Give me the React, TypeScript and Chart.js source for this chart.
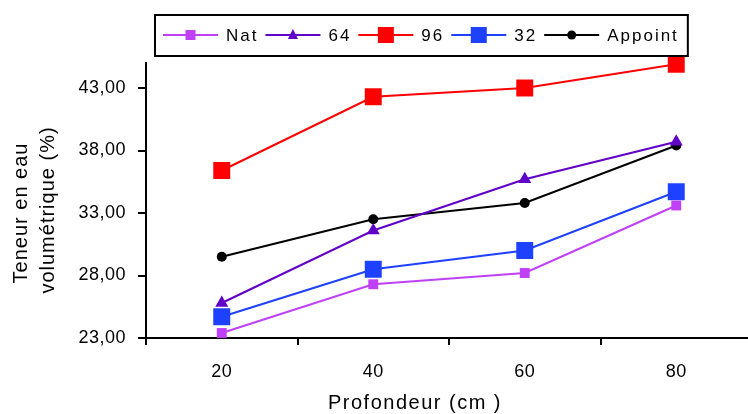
import React, { useEffect, useRef } from "react";
import { Chart, registerables } from "chart.js";

Chart.register(...registerables);

// Soil depth (cm) and volumetric water content (%) per treatment
const depths = ["20", "40", "60", "80"];
const natValues = [23.4, 27.3, 28.2, 33.6];
const s64Values = [25.8, 31.6, 35.7, 38.7];
const s96Values = [36.4, 42.3, 43.0, 44.9];
const s32Values = [24.7, 28.5, 30.0, 34.7];
const appointValues = [29.5, 32.5, 33.8, 38.4];

const yTicks = [23, 28, 33, 38, 43];
const yMin = 23;
const yMax = 45;

const FONT = '"Liberation Sans", Arial, Helvetica, sans-serif';

type Shape = "rect" | "triangle" | "circle";

const seriesDefs: { label: string; data: number[]; color: string; shape: Shape; radius: number; legendSize: number }[] = [
  { label: "Nat", data: natValues, color: "#C040F8", shape: "rect", radius: 7, legendSize: 10 },
  { label: "64", data: s64Values, color: "#6000C8", shape: "triangle", radius: 7.5, legendSize: 10 },
  { label: "96", data: s96Values, color: "#FF0000", shape: "rect", radius: 12, legendSize: 16 },
  { label: "32", data: s32Values, color: "#1E40FF", shape: "rect", radius: 12, legendSize: 16 },
  { label: "Appoint", data: appointValues, color: "#000000", shape: "circle", radius: 5, legendSize: 9 },
];

function drawMarker(ctx: CanvasRenderingContext2D, shape: Shape, x: number, y: number, size: number, color: string) {
  ctx.fillStyle = color;
  ctx.beginPath();
  if (shape === "rect") {
    ctx.rect(x - size / 2, y - size / 2, size, size);
  } else if (shape === "triangle") {
    ctx.moveTo(x, y - size * 0.6);
    ctx.lineTo(x + size / 2, y + size * 0.4);
    ctx.lineTo(x - size / 2, y + size * 0.4);
    ctx.closePath();
  } else {
    ctx.arc(x, y, size / 2, 0, Math.PI * 2);
  }
  ctx.fill();
}

// Boxed legend with line + marker samples, plus both axis titles
const decorPlugin = {
  id: "decor",
  beforeDraw(chart: any) {
    chart.ctx.letterSpacing = "0.5px";
  },
  afterDraw(chart: any) {
    const ctx: CanvasRenderingContext2D = chart.ctx;
    ctx.save();
    ctx.letterSpacing = "2px";
    ctx.font = `17px ${FONT}`;
    ctx.textBaseline = "middle";
    ctx.textAlign = "left";
    const midY = 35;
    let x = 163;
    seriesDefs.forEach((s) => {
      ctx.strokeStyle = s.color;
      ctx.lineWidth = 2;
      ctx.beginPath();
      ctx.moveTo(x, midY);
      ctx.lineTo(x + 55, midY);
      ctx.stroke();
      drawMarker(ctx, s.shape, x + 27.5, midY, s.legendSize, s.color);
      ctx.fillStyle = "#000";
      ctx.fillText(s.label, x + 63, midY + 1);
      const w = ctx.measureText(s.label).width;
      x = x + 63 + w + 7;
    });
    ctx.strokeStyle = "#000";
    ctx.lineWidth = 2;
    ctx.strokeRect(155, 15, x + 2 - 155, 41);

    // axis titles
    ctx.letterSpacing = "1.5px";
    ctx.font = `20px ${FONT}`;
    ctx.fillStyle = "#000";
    ctx.textAlign = "center";
    ctx.textBaseline = "middle";
    ctx.fillText("Profondeur (cm )", 415, 403);

    ctx.letterSpacing = "1px";
    ctx.save();
    ctx.translate(21, 213);
    ctx.rotate(-Math.PI / 2);
    ctx.fillText("Teneur en eau", 0, 0);
    ctx.restore();
    ctx.save();
    ctx.translate(48, 210);
    ctx.rotate(-Math.PI / 2);
    ctx.fillText("volumétrique (%)", 0, 0);
    ctx.restore();
    ctx.restore();
  },
};

export default function App() {
  const canvasRef = useRef<HTMLCanvasElement | null>(null);

  useEffect(() => {
    const canvas = canvasRef.current;
    if (!canvas) return;
    const chart = new Chart(canvas, {
      type: "line",
      data: {
        labels: depths,
        datasets: seriesDefs.map((s) => ({
          label: s.label,
          data: s.data,
          borderColor: s.color,
          backgroundColor: s.color,
          pointBackgroundColor: s.color,
          pointBorderColor: s.color,
          pointBorderWidth: 0,
          borderWidth: 2,
          pointStyle: s.shape,
          pointRadius: s.radius,
          tension: 0,
          clip: false,
        })),
      },
      options: {
        responsive: false,
        animation: false,
        layout: { autoPadding: false, padding: { top: 63, right: 0, left: 0, bottom: 0 } },
        plugins: {
          legend: { display: false },
          tooltip: { enabled: false },
          title: { display: false },
        },
        scales: {
          x: {
            type: "category",
            offset: true,
            border: { color: "#000", width: 2 },
            grid: {
              offset: true,
              drawOnChartArea: false,
              drawTicks: true,
              tickLength: 7,
              color: "#000",
              lineWidth: 2,
            },
            ticks: {
              color: "#000",
              font: { family: FONT, size: 18 },
              padding: 16,
            },
            afterFit(scale: any) {
              scale.height = 76;
              scale.paddingLeft = 0;
              scale.paddingRight = 0;
            },
          },
          y: {
            min: yMin,
            max: yMax,
            border: { color: "#000", width: 2 },
            grid: {
              drawOnChartArea: false,
              drawTicks: true,
              tickLength: 8,
              color: "#000",
              lineWidth: 2,
            },
            ticks: {
              color: "#000",
              font: { family: FONT, size: 18 },
              padding: 12,
              callback: (v: any) => Number(v).toFixed(2).replace(".", ","),
            },
            afterBuildTicks(scale: any) {
              scale.ticks = yTicks.map((v) => ({ value: v }));
            },
            afterFit(scale: any) {
              scale.width = 146;
            },
          },
        },
      },
      plugins: [decorPlugin],
    });
    return () => chart.destroy();
  }, []);

  // The plot runs slightly past the right edge of the visible frame
  return (
    <div style={{ position: "absolute", left: 0, top: 0, width: 748, height: 414, overflow: "hidden", background: "#fff" }}>
      <canvas ref={canvasRef} width={752} height={414} style={{ display: "block" }} />
    </div>
  );
}
